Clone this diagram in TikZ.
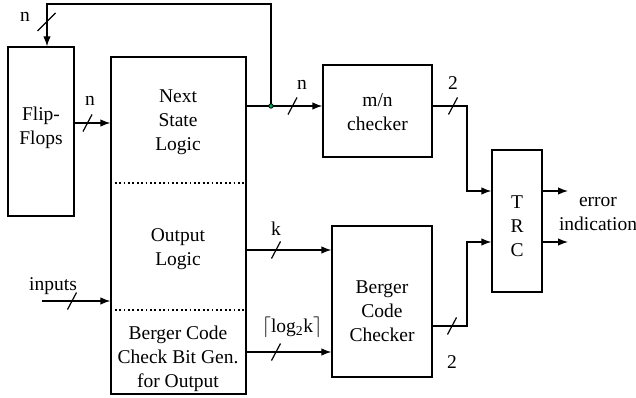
\documentclass[tikz,border=0pt]{standalone}
\usepackage{fontspec}
\setmainfont{Liberation Serif}
\usetikzlibrary{arrows.meta}
\begin{document}
\begin{tikzpicture}[x=1pt,y=-1pt,
  every node/.style={font=\fontsize{19.5}{24}\selectfont, inner sep=0pt, align=center},
  blk/.style={draw, line width=1.3pt, minimum width=#1},
  wire/.style={line width=1.3pt},
  sig/.style={wire, -{Latex[length=10pt,width=7.5pt]}},
  sep/.style={line width=1.8pt, dash pattern=on 1.8pt off 2.6pt},
  buswidth/.pic={\draw[line width=1.2pt] (-4.5,8.5) -- (4.5,-8.5);},
  tap/.style={circle, draw, line width=0.8pt, fill=teal!70!green, minimum size=4.5pt}
]
\useasboundingbox (0,0) rectangle (636,398);

% blocks
\node[blk=66pt, minimum height=169pt] (ff)  at (41,131.5) {};
\node[blk=135pt, minimum height=337pt] (main) at (178.5,225.5) {};
\node[blk=109pt, minimum height=92pt]  (mn)  at (377.5,111) {};
\node[blk=100pt, minimum height=151pt] (bcc) at (382,301.5) {};
\node[blk=50pt, minimum height=142pt]  (trc) at (517,221) {};

% block texts
\node (tff)   at (41,128)    {Flip-\\Flops};
\node (tns)   at (178,122)   {Next\\State\\Logic};
\node (tout)  at (178,249)   {Output\\Logic};
\node (tgen)  at (178,359)   {Berger Code\\Check Bit Gen.\\for Output};
\node (tmn)   at (377.5,112) {m/n\\checker};
\node (tbcc)  at (382,311)   {Berger\\Code\\Checker};
\node (ttrc)  at (517,226)   {T\\R\\C};

% section dividers in the logic block
\draw[sep] (main.west |- 0,183) -- (main.east |- 0,183);
\draw[sep] (main.west |- 0,310) -- (main.east |- 0,310);

% next state to m/n checker, with feedback to the flip-flops
\coordinate (j) at (271,106);
\coordinate (top) at (47,4);
\draw[wire] (main.east |- j) -- (j);
\draw[sig] (j) -- (mn.west |- j);
\draw[sig] (j) |- (top) -- (top |- ff.north);
\node[tap] (jt) at (j) {};
\draw[line width=1.2pt] (37.5,31) -- (55.5,13);
\node (nfb) at (25,17) {n};
\pic at (292.5,106) {buswidth};
\node (nmn) at (302,85) {n};

% flip-flops to logic
\draw[sig] (ff.east |- 0,123) -- (main.west |- 0,123);
\pic at (87.5,123) {buswidth};
\node (nff) at (90,101) {n};

% primary inputs
\coordinate (inp) at (42,301);
\draw[sig] (inp) -- (main.west |- inp);
\pic at (72,301) {buswidth};
\node (tin) at (53,286) {inputs};

% outputs and check bits to the Berger code checker
\draw[sig] (main.east |- 0,250) -- (bcc.west |- 0,250);
\pic at (276,250) {buswidth};
\node (nk) at (276,229) {k};
\draw[sig] (main.east |- 0,352) -- (bcc.west |- 0,352);
\pic at (276,352) {buswidth};
\node (nlog) at (292,327) {$\bigl\lceil$log\textsubscript{2}k$\bigr\rceil$};

% checker outputs to the TRC
\coordinate (c1) at (467,106);
\draw[sig] (mn.east |- c1) -- (c1) |- (trc.west |- 0,191);
\pic at (453,106) {buswidth};
\node (n2a) at (453,83) {2};
\coordinate (c2) at (467,326);
\draw[sig] (bcc.east |- c2) -- (c2) |- (trc.west |- 0,242);
\pic at (452,326) {buswidth};
\node (n2b) at (452,362) {2};

% error indication
\coordinate (e1) at (568,191);
\coordinate (e2) at (568,242);
\draw[sig] (trc.east |- e1) -- (e1);
\draw[sig] (trc.east |- e2) -- (e2);
\node (terr) at (598,214) {error\\indication};
\end{tikzpicture}
\end{document}
